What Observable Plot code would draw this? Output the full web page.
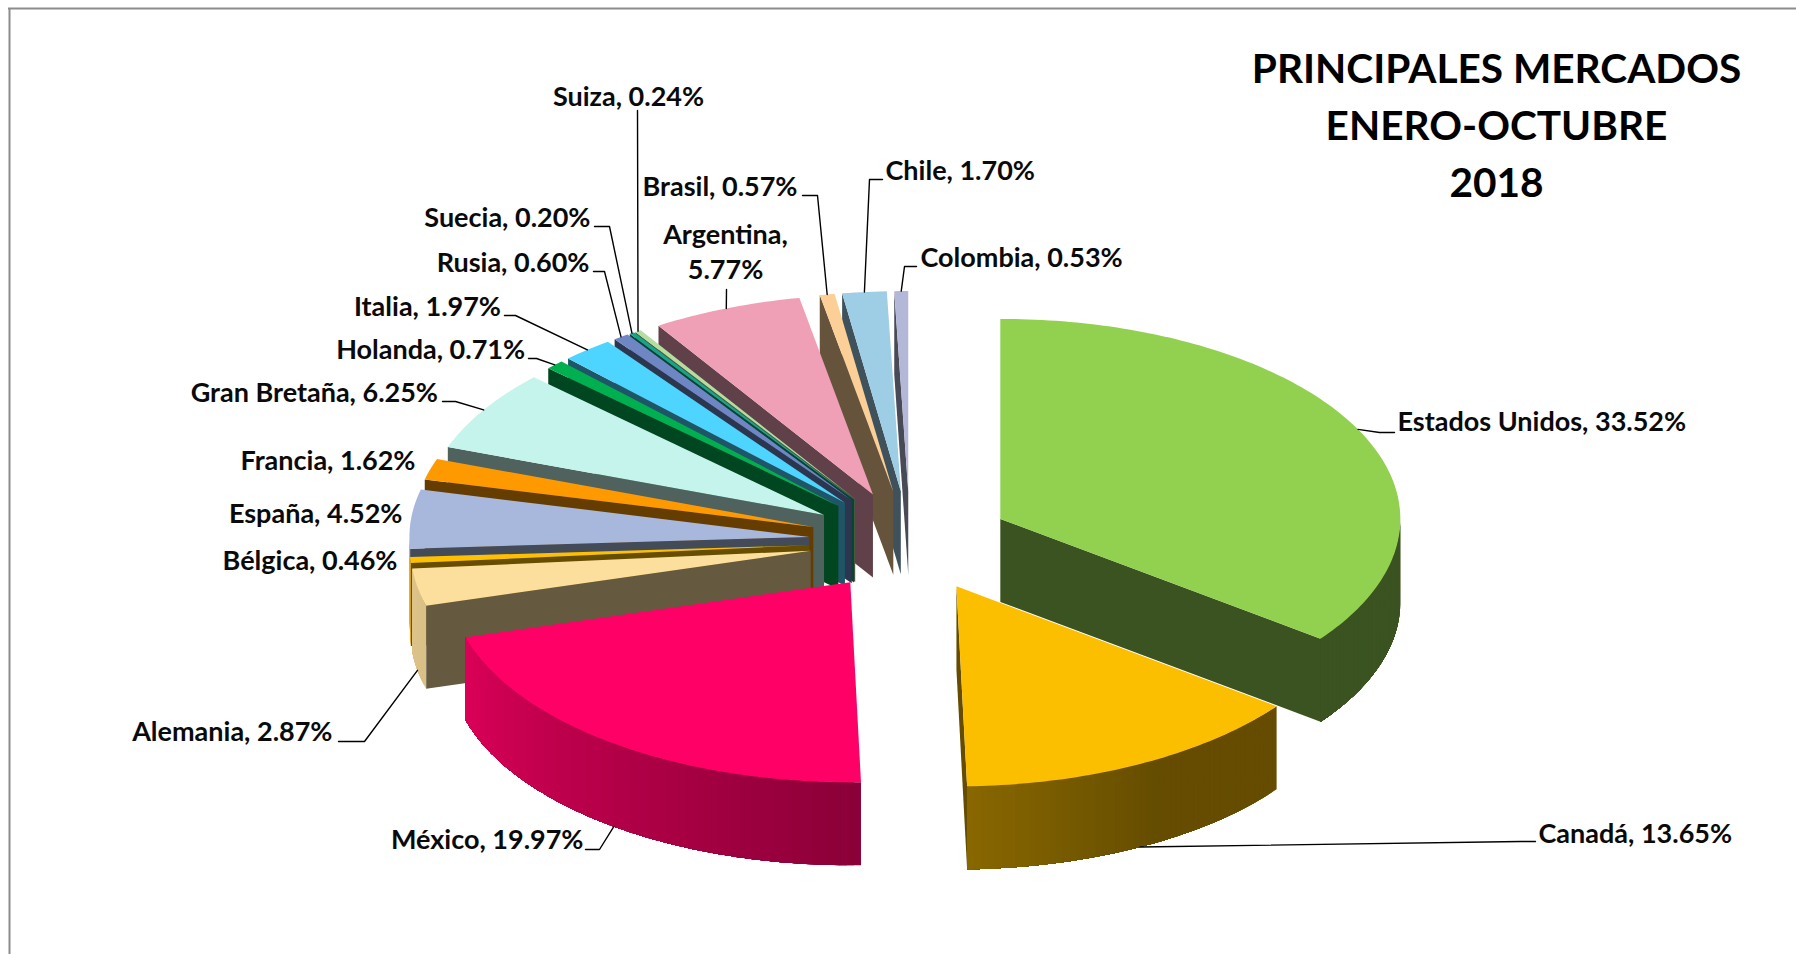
<!DOCTYPE html>
<html lang="es">
<head>
<meta charset="utf-8">
<title>Principales mercados</title>
<script src="https://cdn.jsdelivr.net/npm/d3@7"></script>
<script src="https://cdn.jsdelivr.net/npm/@observablehq/plot@0.6"></script>
<style>
  html, body { margin: 0; padding: 0; background: #fff; }
  svg { display: block; }
</style>
</head>
<body>
<div id="chart"></div>
<script>
// Market names and their share of exports, in clockwise order from twelve o'clock.
const countries = ["Estados Unidos", "Canadá", "México", "Alemania", "Bélgica", "España", "Francia",
  "Gran Bretaña", "Holanda", "Italia", "Rusia", "Suecia", "Suiza", "Argentina", "Brasil", "Chile", "Colombia"];
const shares = [33.52, 13.65, 19.97, 2.87, 0.46, 4.52, 1.62, 6.25, 0.71, 1.97, 0.60, 0.20, 0.24, 5.77, 0.57, 1.70, 0.53];
const topColors = ["#92d050", "#fcbf00", "#ff0066", "#fddf9d", "#ffc000", "#a8b8dc", "#ff9900", "#c5f4ec",
  "#00b050", "#4dd4ff", "#6f86c4", "#17a589", "#b5dda0", "#ef9fb6", "#fccf96", "#9ecde6", "#b3b8d8"];

const titleText = "PRINCIPALES MERCADOS\nENERO-OCTUBRE\n2018";
const wrappedLabels = ["Argentina"];

// Label placement per market: text anchor, text x, text y, leader elbow points, leader drop on the wall.
const labelPlacement = [
  ["start", 1397, 419, [[1379, 432], [1394, 432]], 0],
  ["start", 1538, 831, [[1520, 841], [1535, 841]], 1],
  ["end", 583, 837, [[599, 849], [585, 849]], 1],
  ["end", 332, 729, [[364, 741], [338, 741]], 1],
  ["end", 397, 558, [], 0],
  ["end", 402, 511, [], 0],
  ["end", 415, 458, [], 0],
  ["end", 437.5, 390, [[455, 401], [442, 401]], 0],
  ["end", 524.6, 347, [[536, 358], [528, 358]], 0],
  ["end", 500.5, 304, [[515, 315], [504, 315]], 0],
  ["end", 589, 260, [[604, 271], [593, 271]], 0],
  ["end", 590, 215, [[609, 226], [594, 226]], 0],
  ["middle", 628, 94, [[637, 110]], 0],
  ["middle", 725, 250, [[726, 289]], 0],
  ["end", 797, 184, [[817, 195], [802, 195]], 0],
  ["start", 885, 168, [[869, 179], [882, 179]], 0],
  ["start", 920, 255, [[904, 266], [916, 266]], 0]
];

// Pie geometry in plot units: an oblique disc with every slice pulled out along its bisector.
const W = 1796, H = 954;
const cx = 909.5, cy = 541, rx = 400, ry = 200, pull = 101, depth = 83;
const rad = Math.PI / 180;
const total = d3.sum(shares);

const px = (x0, deg) => x0 + rx * Math.sin(deg * rad);
const py = (y0, deg) => y0 - ry * Math.cos(deg * rad);

// Brightness of the outer wall as it turns round the disc.
const wallLight = d3.scaleLinear().domain([0, 150, 180, 254, 270, 360]).range([0.4, 0.4, 0.55, 0.86, 0.88, 0.88]);
const shade = (color, k) => {
  const c = d3.rgb(color);
  return d3.rgb(c.r * k, c.g * k, c.b * k).formatHex();
};

let running = 0;
const slices = shares.map((v, i) => {
  const a0 = running / total * 360;
  running += v;
  const a1 = running / total * 360;
  const mid = (a0 + a1) / 2;
  return {
    i, name: countries[i], value: v, color: topColors[i], a0, a1, mid,
    ax: cx + pull * Math.sin(mid * rad),
    ay: cy - pull * (ry / rx) * Math.cos(mid * rad)
  };
});

// Every face becomes one closed outline; rows keep back-to-front painting order.
const faces = [];
const addFace = (key, fill, pts) => pts.forEach(([x, y]) => faces.push({key, fill, x, y}));
const arcAngles = (a, b) => {
  const n = Math.max(2, Math.ceil(b - a));
  return d3.range(n + 1).map((k) => a + (b - a) * k / n);
};

for (const s of d3.sort(slices, (d) => d.ay)) {
  const wall = shade(s.color, 0.4);
  const rimFace = (key, fill, angles) => addFace(key, fill, [
    ...angles.map((a) => [px(s.ax, a), py(s.ay, a)]),
    ...angles.slice().reverse().map((a) => [px(s.ax, a), py(s.ay, a) + depth])
  ]);
  if (s.a0 > 180) {
    addFace(`${s.i}-w0`, wall, [[s.ax, s.ay], [px(s.ax, s.a0), py(s.ay, s.a0)],
      [px(s.ax, s.a0), py(s.ay, s.a0) + depth], [s.ax, s.ay + depth]]);
  }
  if (s.a1 < 180) {
    addFace(`${s.i}-w1`, wall, [[s.ax, s.ay], [px(s.ax, s.a1), py(s.ay, s.a1)],
      [px(s.ax, s.a1), py(s.ay, s.a1) + depth], [s.ax, s.ay + depth]]);
  }
  const from = Math.max(s.a0, 90), to = Math.min(s.a1, 270);
  if (to > from) {
    // Each band runs on to the slice's far end, so the next band paints over it without a seam.
    const steps = arcAngles(from, to);
    steps.slice(0, -1).forEach((a, k) => {
      const b = steps[k + 1];
      rimFace(`${s.i}-o${k}`, shade(s.color, wallLight((a + b) / 2)), steps.slice(k));
    });
  }
  addFace(`${s.i}-top`, s.color, [[s.ax, s.ay],
    ...arcAngles(s.a0, s.a1).map((a) => [px(s.ax, a), py(s.ay, a)])]);
}

// Leader lines start on the rim at each slice's bisector.
const leaders = [];
slices.forEach((s, i) => {
  const [, , , elbow, drop] = labelPlacement[i];
  if (!elbow.length) return;
  leaders.push({name: s.name, x: px(s.ax, s.mid), y: py(s.ay, s.mid) + drop * depth});
  elbow.forEach(([x, y]) => leaders.push({name: s.name, x, y}));
});

const labels = slices.map((s, i) => {
  const [anchor, x, y] = labelPlacement[i];
  const pct = `${s.value.toFixed(2)}%`;
  const text = wrappedLabels.includes(s.name) ? `${s.name},\n${pct}` : `${s.name}, ${pct}`;
  return {anchor, x, y, text};
});

const labelFont = {fontFamily: "Lato", fontWeight: 700, fontSize: 27, fill: "#0a0a0a", lineHeight: 1.3};
const labelMark = (anchor) => Plot.text(labels.filter((d) => d.anchor === anchor),
  {x: "x", y: "y", text: "text", textAnchor: anchor, ...labelFont});

const chart = Plot.plot({
  width: W,
  height: H,
  margin: 0,
  x: {domain: [0, W], range: [0, W], axis: null},
  y: {domain: [0, H], range: [0, H], axis: null},
  color: {type: "identity"},
  style: {background: "#fff"},
  marks: [
    Plot.ruleX([9], {y1: 8, y2: H, stroke: "#8c8c8c", strokeWidth: 2}),
    Plot.ruleY([8], {x1: 8, x2: W, stroke: "#8c8c8c", strokeWidth: 2}),
    Plot.line(faces, {x: "x", y: "y", z: "key", fill: "fill", stroke: null, curve: "linear-closed"}),
    Plot.line(leaders, {x: "x", y: "y", z: "name", stroke: "#000", strokeWidth: 1.4}),
    labelMark("start"),
    labelMark("end"),
    labelMark("middle"),
    Plot.text([titleText], {x: [1496], y: [121], text: (d) => d, textAnchor: "middle", fontFamily: "Lato",
      fontWeight: 700, fontSize: 40.6, fill: "#000", lineHeight: 1.4})
  ]
});
document.getElementById("chart").append(chart);
</script>
</body>
</html>
